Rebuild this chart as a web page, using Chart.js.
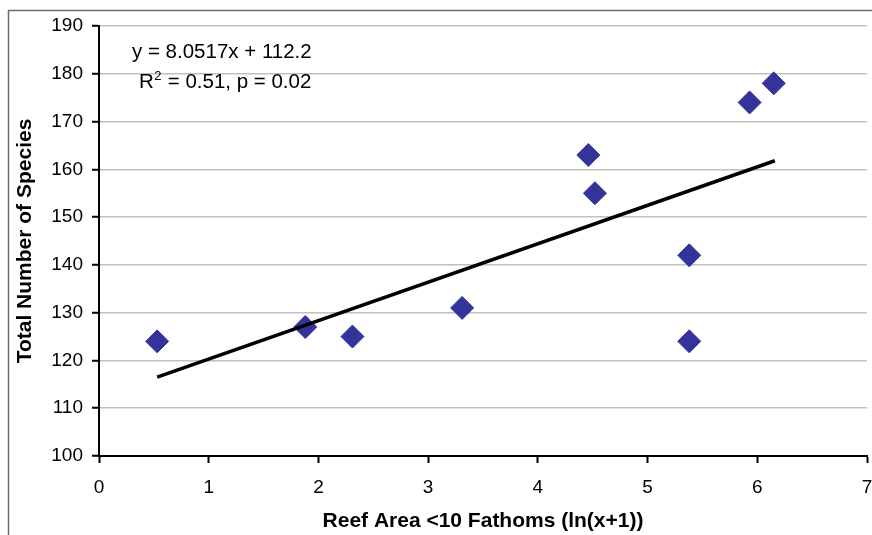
<!DOCTYPE html>
<html>
<head>
<meta charset="utf-8">
<script src="https://cdn.jsdelivr.net/npm/chart.js@4.4.1/dist/chart.umd.min.js"></script>
<style>
  html, body { margin: 0; padding: 0; background: #fff; }
  #wrap { width: 872px; height: 535px; }
</style>
</head>
<body>
<div id="wrap"><canvas id="chart"></canvas></div>
<script>
// reef area (ln(x+1)) vs total species
const reefArea = [0.53, 1.88, 2.31, 3.31, 4.46, 4.52, 5.38, 5.38, 5.93, 6.15];
const species = [124, 127, 125, 131, 163, 155, 142, 124, 174, 178];

// linear trend line end points
const trendX = [0.53, 6.16];
const trendY = [116.5, 161.8];

const equationText = 'y = 8.0517x + 112.2';
const statsText = ['R', '2', ' = 0.51, p = 0.02'];

const xTitle = 'Reef Area <10 Fathoms (ln(x+1))';
const yTitle = 'Total Number of Species';

const FONT = "'Liberation Sans', Arial, sans-serif";

const frameAndText = {
    id: 'frameAndText',
    beforeDraw(chart) {
        const c = chart.ctx;
        c.save();
        c.strokeStyle = '#6b6b6b';
        c.lineWidth = 1.5;
        c.beginPath();
        c.moveTo(8.5, 535);
        c.lineTo(8.5, 10.5);
        c.lineTo(872, 10.5);
        c.stroke();
        c.restore();
    },
    afterDraw(chart) {
        const c = chart.ctx;
        c.save();
        c.fillStyle = '#000';
        c.textBaseline = 'alphabetic';
        c.font = `20.5px ${FONT}`;
        c.fillText(equationText, 132, 58);
        let x = 139;
        c.fillText(statsText[0], x, 88);
        x += c.measureText(statsText[0]).width;
        c.font = `13px ${FONT}`;
        c.fillText(statsText[1], x + 0.5, 80);
        x += c.measureText(statsText[1]).width + 1;
        c.font = `20.5px ${FONT}`;
        c.fillText(statsText[2], x, 88);
        c.restore();
    }
};

new Chart(document.getElementById('chart'), {
    type: 'scatter',
    data: {
        datasets: [
            {
                type: 'line',
                label: 'Trend',
                data: trendX.map((x, i) => ({ x: x, y: trendY[i] })),
                borderColor: '#000',
                borderWidth: 3.5,
                pointRadius: 0,
                fill: false,
                tension: 0
            },
            {
                label: 'Species',
                data: reefArea.map((x, i) => ({ x: x, y: species[i] })),
                pointStyle: 'rectRot',
                pointRadius: 11.5,
                backgroundColor: '#333399',
                borderColor: '#333399',
                borderWidth: 1
            }
        ]
    },
    options: {
        responsive: true,
        maintainAspectRatio: false,
        animation: false,
        layout: {
            autoPadding: false,
            padding: { left: 10, top: 26, right: 5, bottom: 0 }
        },
        plugins: {
            legend: { display: false },
            tooltip: { enabled: false }
        },
        scales: {
            x: {
                type: 'linear',
                min: 0,
                max: 7,
                ticks: {
                    stepSize: 1,
                    color: '#000',
                    padding: 13,
                    font: { family: FONT, size: 19 }
                },
                grid: {
                    drawOnChartArea: false,
                    drawTicks: true,
                    tickLength: 7,
                    tickColor: '#000',
                    tickWidth: 2
                },
                border: { color: '#000', width: 2 },
                title: {
                    display: true,
                    text: xTitle,
                    color: '#000',
                    font: { family: FONT, size: 21, weight: 'bold' },
                    padding: { top: 0, bottom: 1 }
                },
                afterFit(scale) {
                    scale.height = 79;
                    scale.paddingLeft = 0;
                    scale.paddingRight = 0;
                }
            },
            y: {
                type: 'linear',
                min: 100,
                max: 190,
                ticks: {
                    stepSize: 10,
                    color: '#000',
                    padding: 9,
                    font: { family: FONT, size: 19 }
                },
                grid: {
                    color: '#c0c0c0',
                    lineWidth: 1.5,
                    drawTicks: true,
                    tickLength: 7,
                    tickColor: '#000',
                    tickWidth: 2
                },
                border: { color: '#000', width: 2 },
                title: {
                    display: true,
                    text: yTitle,
                    color: '#000',
                    font: { family: FONT, size: 21, weight: 'bold' },
                    padding: { top: 3, bottom: 0 }
                },
                afterFit(scale) { scale.width = 89; }
            }
        }
    },
    plugins: [frameAndText]
});
</script>
</body>
</html>
